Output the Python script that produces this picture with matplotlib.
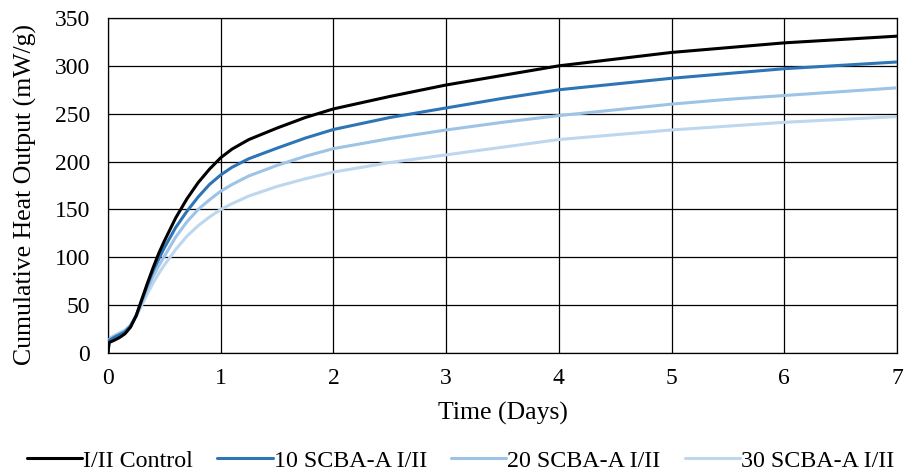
import matplotlib.pyplot as plt

# time points (days) and cumulative heat output (mW/g)
days = [0, 0.01, 0.05, 0.1, 0.15, 0.2, 0.25, 0.3, 0.35, 0.4, 0.45, 0.5,
        0.6, 0.7, 0.8, 0.9, 1.0, 1.1, 1.25, 1.5, 1.75, 2,
        2.5, 3, 3.5, 4, 4.5, 5, 5.5, 6, 6.5, 7]
control = [0, 11, 13, 16, 20, 27, 39, 56, 73, 89, 104, 117,
           141, 161, 178, 192, 204, 213, 223, 235, 246, 255,
           268, 280, 290, 300, 307, 314, 319, 324, 327.5, 331]
scba10 = [0, 13, 16, 19, 22, 28, 39, 55, 71, 86, 98, 110,
          131, 148, 163, 176, 186, 194, 203, 214, 224.5, 233.5,
          246, 256, 266, 275, 281, 287, 292, 297, 300.5, 304]
scba20 = [0, 14, 17, 20, 23, 29, 39, 53, 67, 80, 91, 101,
          121, 137, 150, 160, 169, 176, 185, 196, 205.5, 213.5,
          224, 233, 241, 248, 254, 260, 265, 269, 273, 277]
scba30 = [0, 15, 18, 21, 24, 29, 38, 50, 62, 73, 83, 92,
          108, 122, 133, 142, 150, 156, 164, 174, 182, 189,
          199, 207, 215, 223, 228, 233, 237, 241, 244, 247]

labels = ['I/II Control', '10 SCBA-A I/II', '20 SCBA-A I/II', '30 SCBA-A I/II']
colors = ['#000000', '#2E75B6', '#9DC3E6', '#BDD7EE']

plt.rcParams['font.family'] = ['Liberation Serif', 'DejaVu Serif']

fig = plt.figure(figsize=(9.06, 4.73), dpi=100)
ax = fig.add_axes([0.1192, 0.2537, 0.8708, 0.7083])

series = [control, scba10, scba20, scba30]
for ys, lab, c, z in zip(series, labels, colors, [5, 4, 3, 2]):
    ax.plot(days, ys, color=c, lw=2.2, label=lab, zorder=z,
            solid_capstyle='round', solid_joinstyle='round')

ax.set_xlim(0, 7)
ax.set_ylim(0, 350)
ax.set_xticks(range(0, 8))
ax.set_yticks(range(0, 351, 50))
ax.grid(True, color='black', lw=0.9)
ax.set_axisbelow(True)
for s in ax.spines.values():
    s.set_color('black')
    s.set_linewidth(0.9)
ax.tick_params(length=0, labelsize=17)
ax.tick_params(axis='x', pad=11)
ax.tick_params(axis='y', pad=13)

ax.set_xlabel('Time (Days)', fontsize=18.5, labelpad=9)
ax.set_ylabel('Cumulative Heat Output (mW/g)', fontsize=18.5)
ax.yaxis.set_label_coords(-0.09, 0.472)

ax.legend(loc='center', bbox_to_anchor=(0.447, -0.322), ncol=4,
          frameon=False, fontsize=17.3, handlelength=2.3, handletextpad=0.05,
          columnspacing=1.0)

fig.savefig('out.png', dpi=100)
